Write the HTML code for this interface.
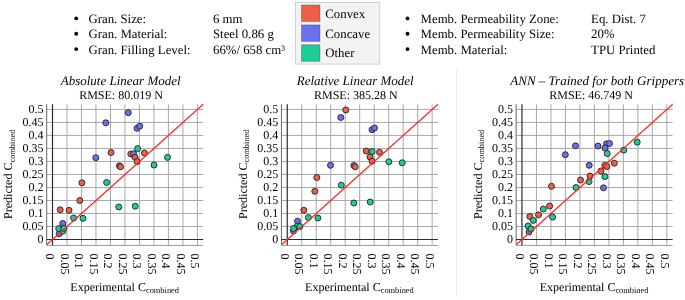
<!DOCTYPE html>
<html><head><meta charset="utf-8"><style>
html,body{margin:0;padding:0;background:#fff;}
body{width:685px;height:300px;overflow:hidden;font-family:"Liberation Serif",serif;}
svg{position:absolute;left:0;top:0;will-change:transform;text-rendering:geometricPrecision;}
</style></head><body>
<svg width="685" height="300" viewBox="0 0 685 300">
<g stroke="#a8a8a8" stroke-width="1" fill="none"><line x1="66.99" y1="104.2" x2="66.99" y2="245.2" /><line x1="81.48" y1="104.2" x2="81.48" y2="245.2" /><line x1="95.97" y1="104.2" x2="95.97" y2="245.2" /><line x1="110.46" y1="104.2" x2="110.46" y2="245.2" /><line x1="124.95" y1="104.2" x2="124.95" y2="245.2" /><line x1="139.44" y1="104.2" x2="139.44" y2="245.2" /><line x1="153.93" y1="104.2" x2="153.93" y2="245.2" /><line x1="168.42" y1="104.2" x2="168.42" y2="245.2" /><line x1="182.91" y1="104.2" x2="182.91" y2="245.2" /><line x1="197.40" y1="104.2" x2="197.40" y2="245.2" /><line x1="46.70" y1="226.49" x2="203.20" y2="226.49" /><line x1="46.70" y1="213.48" x2="203.20" y2="213.48" /><line x1="46.70" y1="200.47" x2="203.20" y2="200.47" /><line x1="46.70" y1="187.46" x2="203.20" y2="187.46" /><line x1="46.70" y1="174.45" x2="203.20" y2="174.45" /><line x1="46.70" y1="161.44" x2="203.20" y2="161.44" /><line x1="46.70" y1="148.43" x2="203.20" y2="148.43" /><line x1="46.70" y1="135.42" x2="203.20" y2="135.42" /><line x1="46.70" y1="122.41" x2="203.20" y2="122.41" /><line x1="46.70" y1="109.40" x2="203.20" y2="109.40" /><line x1="46.70" y1="245.4" x2="203.20" y2="245.4" stroke="#9a9a9a"/></g>
<line x1="46.70" y1="104.2" x2="46.70" y2="245.2" stroke="#666" stroke-width="1"/>
<g stroke="#2a2a2a" stroke-width="1.2"><line x1="52.5" y1="104.2" x2="52.5" y2="245.2"/><line x1="46.70" y1="239.5" x2="203.20" y2="239.5"/></g>
<g stroke="#222222" stroke-width="0.9"><circle cx="111.0" cy="152.5" r="3" fill="#ee5f4a"/><circle cx="130.8" cy="154.0" r="3" fill="#ee5f4a"/><circle cx="133.6" cy="153.7" r="3" fill="#6b70f2"/><circle cx="135.1" cy="157.3" r="3" fill="#ee5f4a"/><circle cx="137.1" cy="161.5" r="3" fill="#ee5f4a"/><circle cx="144.4" cy="152.9" r="3" fill="#ee5f4a"/><circle cx="119.4" cy="165.8" r="3" fill="#6b70f2"/><circle cx="120.5" cy="166.8" r="3" fill="#ee5f4a"/><circle cx="81.9" cy="182.8" r="3" fill="#ee5f4a"/><circle cx="79.8" cy="200.5" r="3" fill="#ee5f4a"/><circle cx="60.2" cy="209.8" r="3" fill="#ee5f4a"/><circle cx="69.0" cy="210.3" r="3" fill="#ee5f4a"/><circle cx="128.3" cy="112.7" r="3" fill="#6b70f2"/><circle cx="105.8" cy="122.8" r="3" fill="#6b70f2"/><circle cx="137.0" cy="128.3" r="3" fill="#6b70f2"/><circle cx="139.7" cy="126.2" r="3" fill="#6b70f2"/><circle cx="95.8" cy="157.7" r="3" fill="#6b70f2"/><circle cx="62.8" cy="223.5" r="3" fill="#6b70f2"/><circle cx="59.2" cy="233.8" r="3" fill="#6b70f2"/><circle cx="137.6" cy="148.6" r="3" fill="#1fcb97"/><circle cx="167.5" cy="157.4" r="3" fill="#1fcb97"/><circle cx="154.0" cy="165.0" r="3" fill="#1fcb97"/><circle cx="106.6" cy="182.5" r="3" fill="#1fcb97"/><circle cx="118.8" cy="207.0" r="3" fill="#1fcb97"/><circle cx="135.2" cy="206.2" r="3" fill="#1fcb97"/><circle cx="73.6" cy="218.0" r="3" fill="#1fcb97"/><circle cx="83.0" cy="218.3" r="3" fill="#1fcb97"/><circle cx="62.8" cy="231.2" r="3" fill="#1fcb97"/><circle cx="58.7" cy="228.6" r="3" fill="#1fcb97"/><circle cx="63.9" cy="228.3" r="3" fill="#1fcb97"/></g>
<line x1="46.70" y1="244.7" x2="203.20" y2="104.2" stroke="#ff2a2a" stroke-width="1.3"/>
<g font-family="Liberation Serif" font-size="12" fill="#000"><text x="43.50" y="243.20" text-anchor="end">0</text><text x="43.50" y="230.19" text-anchor="end">0.05</text><text x="43.50" y="217.18" text-anchor="end">0.1</text><text x="43.50" y="204.17" text-anchor="end">0.15</text><text x="43.50" y="191.16" text-anchor="end">0.2</text><text x="43.50" y="178.15" text-anchor="end">0.25</text><text x="43.50" y="165.14" text-anchor="end">0.3</text><text x="43.50" y="152.13" text-anchor="end">0.35</text><text x="43.50" y="139.12" text-anchor="end">0.4</text><text x="43.50" y="126.11" text-anchor="end">0.45</text><text x="43.50" y="113.10" text-anchor="end">0.5</text><text transform="translate(46.20,253.5) rotate(90)" x="0" y="0">0</text><text transform="translate(60.69,253.5) rotate(90)" x="0" y="0">0.05</text><text transform="translate(75.18,253.5) rotate(90)" x="0" y="0">0.1</text><text transform="translate(89.67,253.5) rotate(90)" x="0" y="0">0.15</text><text transform="translate(104.16,253.5) rotate(90)" x="0" y="0">0.2</text><text transform="translate(118.65,253.5) rotate(90)" x="0" y="0">0.25</text><text transform="translate(133.14,253.5) rotate(90)" x="0" y="0">0.3</text><text transform="translate(147.63,253.5) rotate(90)" x="0" y="0">0.35</text><text transform="translate(162.12,253.5) rotate(90)" x="0" y="0">0.4</text><text transform="translate(176.61,253.5) rotate(90)" x="0" y="0">0.45</text><text transform="translate(191.10,253.5) rotate(90)" x="0" y="0">0.5</text></g>
<text x="70.30" y="290.9" font-family="Liberation Serif" font-size="12" fill="#000">Experimental C<tspan font-size="8.4" dy="2.5">combined</tspan></text>
<text transform="translate(12.20,218.9) rotate(-90)" x="0" y="0" font-family="Liberation Serif" font-size="12" fill="#000">Predicted C<tspan font-size="8.4" dy="2.5">combined</tspan></text>
<text x="120.7" y="84.7" text-anchor="middle" font-family="Liberation Serif" font-style="italic" font-size="13" fill="#000">Absolute Linear Model</text>
<text x="121.0" y="98.9" text-anchor="middle" font-family="Liberation Serif" font-size="12" fill="#000">RMSE: 80.019 N</text>
<g stroke="#a8a8a8" stroke-width="1" fill="none"><line x1="301.74" y1="104.2" x2="301.74" y2="245.2" /><line x1="316.23" y1="104.2" x2="316.23" y2="245.2" /><line x1="330.72" y1="104.2" x2="330.72" y2="245.2" /><line x1="345.21" y1="104.2" x2="345.21" y2="245.2" /><line x1="359.70" y1="104.2" x2="359.70" y2="245.2" /><line x1="374.19" y1="104.2" x2="374.19" y2="245.2" /><line x1="388.68" y1="104.2" x2="388.68" y2="245.2" /><line x1="403.17" y1="104.2" x2="403.17" y2="245.2" /><line x1="417.66" y1="104.2" x2="417.66" y2="245.2" /><line x1="432.15" y1="104.2" x2="432.15" y2="245.2" /><line x1="281.45" y1="226.49" x2="437.95" y2="226.49" /><line x1="281.45" y1="213.48" x2="437.95" y2="213.48" /><line x1="281.45" y1="200.47" x2="437.95" y2="200.47" /><line x1="281.45" y1="187.46" x2="437.95" y2="187.46" /><line x1="281.45" y1="174.45" x2="437.95" y2="174.45" /><line x1="281.45" y1="161.44" x2="437.95" y2="161.44" /><line x1="281.45" y1="148.43" x2="437.95" y2="148.43" /><line x1="281.45" y1="135.42" x2="437.95" y2="135.42" /><line x1="281.45" y1="122.41" x2="437.95" y2="122.41" /><line x1="281.45" y1="109.40" x2="437.95" y2="109.40" /><line x1="281.45" y1="245.4" x2="437.95" y2="245.4" stroke="#9a9a9a"/></g>
<line x1="281.45" y1="104.2" x2="281.45" y2="245.2" stroke="#666" stroke-width="1"/>
<g stroke="#2a2a2a" stroke-width="1.2"><line x1="287.25" y1="104.2" x2="287.25" y2="245.2"/><line x1="281.45" y1="239.5" x2="437.95" y2="239.5"/></g>
<g stroke="#222222" stroke-width="0.9"><circle cx="345.8" cy="110.0" r="3" fill="#ee5f4a"/><circle cx="366.2" cy="151.0" r="3" fill="#ee5f4a"/><circle cx="379.5" cy="152.3" r="3" fill="#ee5f4a"/><circle cx="370.0" cy="157.0" r="3" fill="#ee5f4a"/><circle cx="372.0" cy="161.2" r="3" fill="#ee5f4a"/><circle cx="353.8" cy="165.5" r="3" fill="#6b70f2"/><circle cx="355.2" cy="166.8" r="3" fill="#ee5f4a"/><circle cx="316.8" cy="177.5" r="3" fill="#ee5f4a"/><circle cx="314.8" cy="191.3" r="3" fill="#ee5f4a"/><circle cx="303.8" cy="210.3" r="3" fill="#ee5f4a"/><circle cx="295.0" cy="228.0" r="3" fill="#ee5f4a"/><circle cx="340.8" cy="117.5" r="3" fill="#6b70f2"/><circle cx="372.0" cy="129.7" r="3" fill="#6b70f2"/><circle cx="374.5" cy="128.0" r="3" fill="#6b70f2"/><circle cx="330.5" cy="165.3" r="3" fill="#6b70f2"/><circle cx="297.5" cy="221.2" r="3" fill="#6b70f2"/><circle cx="293.5" cy="231.0" r="3" fill="#6b70f2"/><circle cx="372.2" cy="151.5" r="3" fill="#1fcb97"/><circle cx="388.8" cy="161.8" r="3" fill="#1fcb97"/><circle cx="402.2" cy="162.8" r="3" fill="#1fcb97"/><circle cx="341.3" cy="185.2" r="3" fill="#1fcb97"/><circle cx="353.8" cy="203.0" r="3" fill="#1fcb97"/><circle cx="370.2" cy="202.0" r="3" fill="#1fcb97"/><circle cx="308.4" cy="217.5" r="3" fill="#1fcb97"/><circle cx="317.9" cy="218.0" r="3" fill="#1fcb97"/><circle cx="297.5" cy="226.0" r="3" fill="#1fcb97"/><circle cx="299.8" cy="226.5" r="3" fill="#1fcb97"/><circle cx="293.5" cy="228.5" r="3" fill="#1fcb97"/></g>
<line x1="281.45" y1="244.7" x2="437.95" y2="104.2" stroke="#ff2a2a" stroke-width="1.3"/>
<g font-family="Liberation Serif" font-size="12" fill="#000"><text x="278.25" y="243.20" text-anchor="end">0</text><text x="278.25" y="230.19" text-anchor="end">0.05</text><text x="278.25" y="217.18" text-anchor="end">0.1</text><text x="278.25" y="204.17" text-anchor="end">0.15</text><text x="278.25" y="191.16" text-anchor="end">0.2</text><text x="278.25" y="178.15" text-anchor="end">0.25</text><text x="278.25" y="165.14" text-anchor="end">0.3</text><text x="278.25" y="152.13" text-anchor="end">0.35</text><text x="278.25" y="139.12" text-anchor="end">0.4</text><text x="278.25" y="126.11" text-anchor="end">0.45</text><text x="278.25" y="113.10" text-anchor="end">0.5</text><text transform="translate(280.95,253.5) rotate(90)" x="0" y="0">0</text><text transform="translate(295.44,253.5) rotate(90)" x="0" y="0">0.05</text><text transform="translate(309.93,253.5) rotate(90)" x="0" y="0">0.1</text><text transform="translate(324.42,253.5) rotate(90)" x="0" y="0">0.15</text><text transform="translate(338.91,253.5) rotate(90)" x="0" y="0">0.2</text><text transform="translate(353.40,253.5) rotate(90)" x="0" y="0">0.25</text><text transform="translate(367.89,253.5) rotate(90)" x="0" y="0">0.3</text><text transform="translate(382.38,253.5) rotate(90)" x="0" y="0">0.35</text><text transform="translate(396.87,253.5) rotate(90)" x="0" y="0">0.4</text><text transform="translate(411.36,253.5) rotate(90)" x="0" y="0">0.45</text><text transform="translate(425.85,253.5) rotate(90)" x="0" y="0">0.5</text></g>
<text x="305.05" y="290.9" font-family="Liberation Serif" font-size="12" fill="#000">Experimental C<tspan font-size="8.4" dy="2.5">combined</tspan></text>
<text transform="translate(246.95,218.9) rotate(-90)" x="0" y="0" font-family="Liberation Serif" font-size="12" fill="#000">Predicted C<tspan font-size="8.4" dy="2.5">combined</tspan></text>
<text x="355.2" y="84.7" text-anchor="middle" font-family="Liberation Serif" font-style="italic" font-size="13" fill="#000">Relative Linear Model</text>
<text x="355.8" y="98.9" text-anchor="middle" font-family="Liberation Serif" font-size="12" fill="#000">RMSE: 385.28 N</text>
<g stroke="#a8a8a8" stroke-width="1" fill="none"><line x1="536.44" y1="104.2" x2="536.44" y2="245.2" /><line x1="550.93" y1="104.2" x2="550.93" y2="245.2" /><line x1="565.42" y1="104.2" x2="565.42" y2="245.2" /><line x1="579.91" y1="104.2" x2="579.91" y2="245.2" /><line x1="594.40" y1="104.2" x2="594.40" y2="245.2" /><line x1="608.89" y1="104.2" x2="608.89" y2="245.2" /><line x1="623.38" y1="104.2" x2="623.38" y2="245.2" /><line x1="637.87" y1="104.2" x2="637.87" y2="245.2" /><line x1="652.36" y1="104.2" x2="652.36" y2="245.2" /><line x1="666.85" y1="104.2" x2="666.85" y2="245.2" /><line x1="516.15" y1="226.49" x2="672.65" y2="226.49" /><line x1="516.15" y1="213.48" x2="672.65" y2="213.48" /><line x1="516.15" y1="200.47" x2="672.65" y2="200.47" /><line x1="516.15" y1="187.46" x2="672.65" y2="187.46" /><line x1="516.15" y1="174.45" x2="672.65" y2="174.45" /><line x1="516.15" y1="161.44" x2="672.65" y2="161.44" /><line x1="516.15" y1="148.43" x2="672.65" y2="148.43" /><line x1="516.15" y1="135.42" x2="672.65" y2="135.42" /><line x1="516.15" y1="122.41" x2="672.65" y2="122.41" /><line x1="516.15" y1="109.40" x2="672.65" y2="109.40" /><line x1="516.15" y1="245.4" x2="672.65" y2="245.4" stroke="#9a9a9a"/></g>
<line x1="516.15" y1="104.2" x2="516.15" y2="245.2" stroke="#666" stroke-width="1"/>
<g stroke="#2a2a2a" stroke-width="1.2"><line x1="521.95" y1="104.2" x2="521.95" y2="245.2"/><line x1="516.15" y1="239.5" x2="672.65" y2="239.5"/></g>
<g stroke="#222222" stroke-width="0.9"><circle cx="614.3" cy="163.2" r="3" fill="#ee5f4a"/><circle cx="604.8" cy="165.4" r="3" fill="#ee5f4a"/><circle cx="606.9" cy="166.6" r="3" fill="#ee5f4a"/><circle cx="601.0" cy="171.1" r="3" fill="#ee5f4a"/><circle cx="590.0" cy="176.0" r="3" fill="#ee5f4a"/><circle cx="580.5" cy="180.0" r="3" fill="#ee5f4a"/><circle cx="551.5" cy="186.3" r="3" fill="#ee5f4a"/><circle cx="549.6" cy="206.0" r="3" fill="#ee5f4a"/><circle cx="538.5" cy="214.8" r="3" fill="#ee5f4a"/><circle cx="529.8" cy="216.5" r="3" fill="#ee5f4a"/><circle cx="575.5" cy="145.8" r="3" fill="#6b70f2"/><circle cx="565.3" cy="154.7" r="3" fill="#6b70f2"/><circle cx="598.0" cy="146.0" r="3" fill="#6b70f2"/><circle cx="606.5" cy="143.8" r="3" fill="#6b70f2"/><circle cx="609.5" cy="143.5" r="3" fill="#6b70f2"/><circle cx="605.0" cy="148.0" r="3" fill="#6b70f2"/><circle cx="589.2" cy="165.3" r="3" fill="#6b70f2"/><circle cx="603.5" cy="187.8" r="3" fill="#6b70f2"/><circle cx="529.0" cy="232.0" r="3" fill="#6b70f2"/><circle cx="607.2" cy="153.6" r="3" fill="#1fcb97"/><circle cx="623.8" cy="150.1" r="3" fill="#1fcb97"/><circle cx="637.2" cy="142.2" r="3" fill="#1fcb97"/><circle cx="604.9" cy="176.6" r="3" fill="#1fcb97"/><circle cx="589.0" cy="181.6" r="3" fill="#1fcb97"/><circle cx="576.0" cy="187.5" r="3" fill="#1fcb97"/><circle cx="543.3" cy="209.0" r="3" fill="#1fcb97"/><circle cx="552.6" cy="217.1" r="3" fill="#1fcb97"/><circle cx="533.3" cy="220.4" r="3" fill="#1fcb97"/><circle cx="528.1" cy="226.0" r="3" fill="#1fcb97"/><circle cx="530.9" cy="229.0" r="3" fill="#1fcb97"/></g>
<line x1="516.15" y1="244.7" x2="672.65" y2="104.2" stroke="#ff2a2a" stroke-width="1.3"/>
<g font-family="Liberation Serif" font-size="12" fill="#000"><text x="512.95" y="243.20" text-anchor="end">0</text><text x="512.95" y="230.19" text-anchor="end">0.05</text><text x="512.95" y="217.18" text-anchor="end">0.1</text><text x="512.95" y="204.17" text-anchor="end">0.15</text><text x="512.95" y="191.16" text-anchor="end">0.2</text><text x="512.95" y="178.15" text-anchor="end">0.25</text><text x="512.95" y="165.14" text-anchor="end">0.3</text><text x="512.95" y="152.13" text-anchor="end">0.35</text><text x="512.95" y="139.12" text-anchor="end">0.4</text><text x="512.95" y="126.11" text-anchor="end">0.45</text><text x="512.95" y="113.10" text-anchor="end">0.5</text><text transform="translate(515.65,253.5) rotate(90)" x="0" y="0">0</text><text transform="translate(530.14,253.5) rotate(90)" x="0" y="0">0.05</text><text transform="translate(544.63,253.5) rotate(90)" x="0" y="0">0.1</text><text transform="translate(559.12,253.5) rotate(90)" x="0" y="0">0.15</text><text transform="translate(573.61,253.5) rotate(90)" x="0" y="0">0.2</text><text transform="translate(588.10,253.5) rotate(90)" x="0" y="0">0.25</text><text transform="translate(602.59,253.5) rotate(90)" x="0" y="0">0.3</text><text transform="translate(617.08,253.5) rotate(90)" x="0" y="0">0.35</text><text transform="translate(631.57,253.5) rotate(90)" x="0" y="0">0.4</text><text transform="translate(646.06,253.5) rotate(90)" x="0" y="0">0.45</text><text transform="translate(660.55,253.5) rotate(90)" x="0" y="0">0.5</text></g>
<text x="539.75" y="290.9" font-family="Liberation Serif" font-size="12" fill="#000">Experimental C<tspan font-size="8.4" dy="2.5">combined</tspan></text>
<text transform="translate(481.65,218.9) rotate(-90)" x="0" y="0" font-family="Liberation Serif" font-size="12" fill="#000">Predicted C<tspan font-size="8.4" dy="2.5">combined</tspan></text>
<text x="597.2" y="84.7" text-anchor="middle" font-family="Liberation Serif" font-style="italic" font-size="13" fill="#000">ANN – Trained for both Grippers</text>
<text x="591.1" y="98.9" text-anchor="middle" font-family="Liberation Serif" font-size="12" fill="#000">RMSE: 46.749 N</text>
<line x1="456.5" y1="69.5" x2="456.5" y2="297" stroke="#ececec" stroke-width="1"/>
<g font-family="Liberation Serif" font-size="12.8" fill="#000"><circle cx="76.2" cy="18.40" r="1.9" fill="#000"/><text x="88.5" y="23.0">Gran. Size:</text><text x="213.0" y="23.0">6 mm</text><circle cx="76.2" cy="33.75" r="1.9" fill="#000"/><text x="88.5" y="38.35">Gran. Material:</text><text x="213.0" y="38.35">Steel 0.86 g</text><circle cx="76.2" cy="49.10" r="1.9" fill="#000"/><text x="88.5" y="53.7">Gran. Filling Level:</text><text x="213.0" y="53.7">66%/ 658 cm³</text><circle cx="407.5" cy="18.40" r="1.9" fill="#000"/><text x="420.6" y="23.0">Memb. Permeability Zone:</text><text x="591.1" y="23.0">Eq. Dist. 7</text><circle cx="407.5" cy="33.75" r="1.9" fill="#000"/><text x="420.6" y="38.35">Memb. Permeability Size:</text><text x="591.1" y="38.35">20%</text><circle cx="407.5" cy="49.10" r="1.9" fill="#000"/><text x="420.6" y="53.7">Memb. Material:</text><text x="591.1" y="53.7">TPU Printed</text></g>
<rect x="295.5" y="2.5" width="84.2" height="61.6" fill="#f3f3f3" stroke="#cfcfcf" stroke-width="1"/><rect x="301.5" y="5.00" width="18.5" height="16.5" fill="#ee5f4a" stroke="rgba(0,0,0,0.3)" stroke-width="0.8"/><text x="325.3" y="17.60" font-family="Liberation Serif" font-size="12.8" fill="#000">Convex</text><rect x="301.5" y="24.90" width="18.5" height="16.5" fill="#6b70f2" stroke="rgba(0,0,0,0.3)" stroke-width="0.8"/><text x="325.3" y="37.50" font-family="Liberation Serif" font-size="12.8" fill="#000">Concave</text><rect x="301.5" y="44.80" width="18.5" height="16.5" fill="#1fcb97" stroke="rgba(0,0,0,0.3)" stroke-width="0.8"/><text x="325.3" y="57.40" font-family="Liberation Serif" font-size="12.8" fill="#000">Other</text>
</svg>
</body></html>
